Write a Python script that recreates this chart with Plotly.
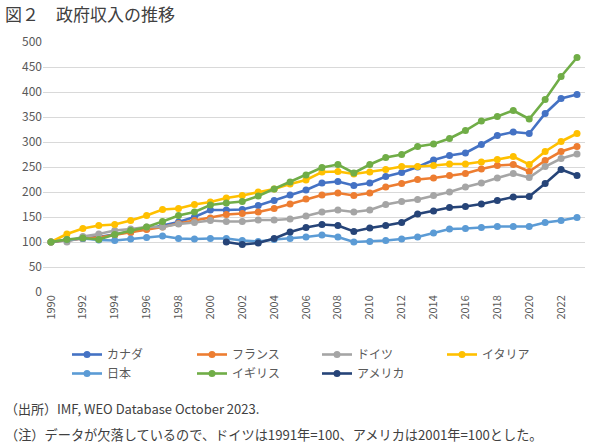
import plotly.graph_objects as go

years = list(range(1990, 2024))

canada = [100, 104, 107, 110, 115, 120, 126, 133, 140, 150, 164, 164, 165, 173, 183, 194, 204,
          218, 221, 213, 218, 231, 239, 250, 264, 273, 278, 295, 313, 320, 317, 357, 387, 395]
france = [100, 104, 107, 109, 114, 119, 125, 130, 137, 143, 148, 155, 157, 160, 167, 176, 186,
          194, 198, 193, 198, 210, 217, 225, 228, 233, 237, 246, 253, 255, 241, 263, 281, 291]
germany = [None, 100, 111, 116, 123, 126, 130, 130, 136, 139, 143, 141, 141, 144, 144, 146, 152,
           160, 164, 160, 164, 175, 181, 185, 193, 200, 210, 218, 228, 237, 229, 251, 267, 276]
italy = [100, 116, 127, 133, 135, 143, 153, 165, 167, 175, 180, 188, 193, 200, 206, 216, 224,
         240, 241, 236, 240, 245, 251, 251, 253, 256, 256, 260, 265, 271, 255, 281, 301, 317]
japan = [100, 105, 107, 104, 103, 106, 109, 112, 107, 106, 107, 107, 103, 101, 105, 107, 110,
         114, 110, 100, 101, 103, 106, 110, 118, 126, 127, 129, 131, 131, 131, 139, 143, 149]
uk = [100, 105, 108, 105, 115, 123, 130, 141, 153, 160, 174, 178, 181, 192, 206, 220, 234,
      249, 255, 238, 255, 269, 275, 291, 296, 307, 323, 342, 351, 363, 346, 385, 431, 469]
usa = [None] * 11 + [100, 95, 98, 107, 120, 129,
                     135, 133, 121, 128, 133, 139, 156, 162, 169, 171, 176, 183, 190, 191, 217, 245, 233]

series = [
    ("カナダ", canada, "#4472C4"),
    ("フランス", france, "#ED7D31"),
    ("ドイツ", germany, "#A5A5A5"),
    ("イタリア", italy, "#FFC000"),
    ("日本", japan, "#5B9BD5"),
    ("イギリス", uk, "#70AD47"),
    ("アメリカ", usa, "#264478"),
]

FONT = "Noto Sans CJK JP"

fig = go.Figure()
for name, vals, col in series:
    fig.add_trace(go.Scatter(
        x=years, y=vals, name=name, mode="lines+markers",
        line=dict(color=col, width=2.6),
        marker=dict(color=col, size=7),
        connectgaps=False,
    ))

W, H = 600, 448
L, R, T, B = 43, 15, 42, 156
pw = W - L - R
ph = H - T - B

def px_x(x):
    return (x - L) / pw

def px_y(y):
    return (H - B - y) / ph

fig.update_layout(
    width=W, height=H,
    margin=dict(l=L, r=R, t=T, b=B),
    paper_bgcolor="white", plot_bgcolor="white",
    font=dict(family=FONT, color="#595959", size=11),
    title=dict(text="図２　政府収入の推移", x=5 / W, xanchor="left", y=1 - 15 / H, yanchor="middle",
               xref="container", yref="container",
               font=dict(family=FONT, size=17, color="#404040")),
    xaxis=dict(
        range=[1989.5, 2023.5],
        tickmode="array", tickvals=list(range(1990, 2023, 2)),
        ticktext=[str(v) for v in range(1990, 2023, 2)],
        tickangle=-90, showgrid=False, zeroline=False, showline=False,
        ticks="", tickfont=dict(size=11, color="#595959"),
    ),
    yaxis=dict(
        range=[0, 500], tickmode="array", tickvals=list(range(0, 501, 50)),
        showgrid=True, gridcolor="#D9D9D9", gridwidth=1, zeroline=False,
        showline=False, ticks="", tickfont=dict(size=12, color="#595959"),
    ),
    legend=dict(
        orientation="h", x=px_x(67), y=px_y(340), xanchor="left", yanchor="top",
        entrywidth=80, entrywidthmode="pixels", itemwidth=30,
        font=dict(family=FONT, size=12, color="#595959"),
        tracegroupgap=0, traceorder="normal",
    ),
    showlegend=True,
)

fig.add_annotation(text="（出所）IMF, WEO Database October 2023.", xref="paper", yref="paper",
                   x=px_x(3), y=px_y(408), xanchor="left", yanchor="middle", showarrow=False,
                   font=dict(family=FONT, size=13, color="#404040"))
fig.add_annotation(text="（注）データが欠落しているので、ドイツは1991年=100、アメリカは2001年=100とした。",
                   xref="paper", yref="paper",
                   x=px_x(3), y=px_y(434), xanchor="left", yanchor="middle", showarrow=False,
                   font=dict(family=FONT, size=13.2, color="#404040"))

fig.write_html("out.html")
